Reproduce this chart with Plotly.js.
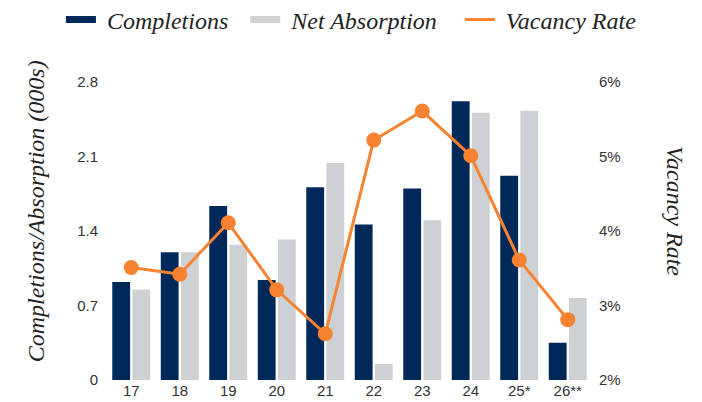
<!DOCTYPE html>
<html>
<head>
<meta charset="utf-8">
<script src="https://cdn.plot.ly/plotly-3.0.1.min.js"></script>
<style>html,body{margin:0;padding:0;background:#fff;}#chart{width:702px;height:402px;}</style>
</head>
<body>
<div id="chart"></div>
<script>
const years = ["17", "18", "19", "20", "21", "22", "23", "24", "25*", "26**"];
const completions = [0.92, 1.20, 1.635, 0.94, 1.81, 1.46, 1.80, 2.62, 1.92, 0.35];
const netAbsorption = [0.85, 1.20, 1.27, 1.32, 2.04, 0.15, 1.50, 2.51, 2.53, 0.77];
const vacancyRate = [3.51, 3.42, 4.11, 3.21, 2.62, 5.22, 5.61, 5.01, 3.61, 2.81];
const leftTicks = [0, 0.7, 1.4, 2.1, 2.8];
const rightTicks = [2, 3, 4, 5, 6];

const navy = '#00295A', gray = '#CDD1D4', orange = '#F7822F';
const serif = '"Liberation Serif", "DejaVu Serif", serif';
const sans = '"Liberation Sans", Arial, sans-serif';
const blank = years.map(() => null);
const pad = n => '\u00a0'.repeat(n);

const traces = [
  {type: 'bar', name: 'Completions', x: years, y: completions, marker: {color: navy}, yaxis: 'y', showlegend: false},
  {type: 'bar', name: 'Net Absorption', x: years, y: netAbsorption, marker: {color: gray}, yaxis: 'y', showlegend: false},
  {type: 'scatter', mode: 'lines', name: 'Vacancy Rate', x: years, y: vacancyRate, yaxis: 'y2',
   line: {color: orange, width: 3}, showlegend: false},
  {type: 'scatter', mode: 'markers', name: 'Vacancy Rate', x: years, y: vacancyRate, yaxis: 'y2',
   marker: {color: orange, size: 15}, showlegend: false},
  // legend entries (wide rectangular swatches like the original)
  {type: 'scatter', mode: 'lines', name: pad(1) + '<i>Completions</i>' + pad(2), x: years, y: blank, yaxis: 'y',
   line: {color: navy, width: 7}},
  {type: 'scatter', mode: 'lines', name: pad(1) + '<i>Net Absorption</i>' + pad(3), x: years, y: blank, yaxis: 'y',
   line: {color: gray, width: 7}},
  {type: 'scatter', mode: 'lines', name: pad(1) + '<i>Vacancy Rate</i>', x: years, y: blank, yaxis: 'y2',
   line: {color: orange, width: 3}}
];

const layout = {
  width: 702, height: 402,
  margin: {l: 107, r: 110, t: 82, b: 22, autoexpand: false},
  paper_bgcolor: '#fff', plot_bgcolor: '#fff',
  barmode: 'group', bargap: 0.17, bargroupgap: 0.114,
  showlegend: true,
  legend: {orientation: 'h', xref: 'paper', yref: 'paper', x: -0.095, xanchor: 'left',
           y: 1.208, yanchor: 'middle', traceorder: 'normal', bgcolor: 'rgba(0,0,0,0)',
           font: {family: serif, size: 24, color: '#222'}, itemwidth: 30},
  font: {family: sans, size: 15, color: '#333'},
  xaxis: {type: 'category', range: [-0.5, 9.5], autorange: false, automargin: false,
          showgrid: false, zeroline: false, showline: false, ticks: '',
          tickfont: {family: sans, size: 15, color: '#333'}},
  yaxis: {range: [0, 2.8], automargin: false, tickvals: leftTicks, ticktext: leftTicks.map(String),
          showgrid: false, zeroline: false, showline: false, ticks: '', ticklabelstandoff: 8,
          tickfont: {family: sans, size: 15, color: '#333'}},
  yaxis2: {range: [2, 6], automargin: false, overlaying: 'y', side: 'right', tickvals: rightTicks,
           ticktext: rightTicks.map(v => v + '%'), showgrid: false, zeroline: false,
           showline: false, ticks: '', ticklabelstandoff: 6,
           tickfont: {family: sans, size: 15, color: '#333'}},
  annotations: [
    {text: '<i>Completions/Absorption (000s)</i>', xref: 'paper', yref: 'paper',
     x: -0.1464, y: 0.566, xanchor: 'center', yanchor: 'middle', textangle: -90, showarrow: false,
     font: {family: serif, size: 24, color: '#222'}},
    {text: '<i>Vacancy Rate</i>', xref: 'paper', yref: 'paper',
     x: 1.1711, y: 0.567, xanchor: 'center', yanchor: 'middle', textangle: 90, showarrow: false,
     font: {family: serif, size: 24, color: '#222'}}
  ]
};

Plotly.newPlot('chart', traces, layout, {displayModeBar: false, staticPlot: true});
</script>
</body>
</html>
